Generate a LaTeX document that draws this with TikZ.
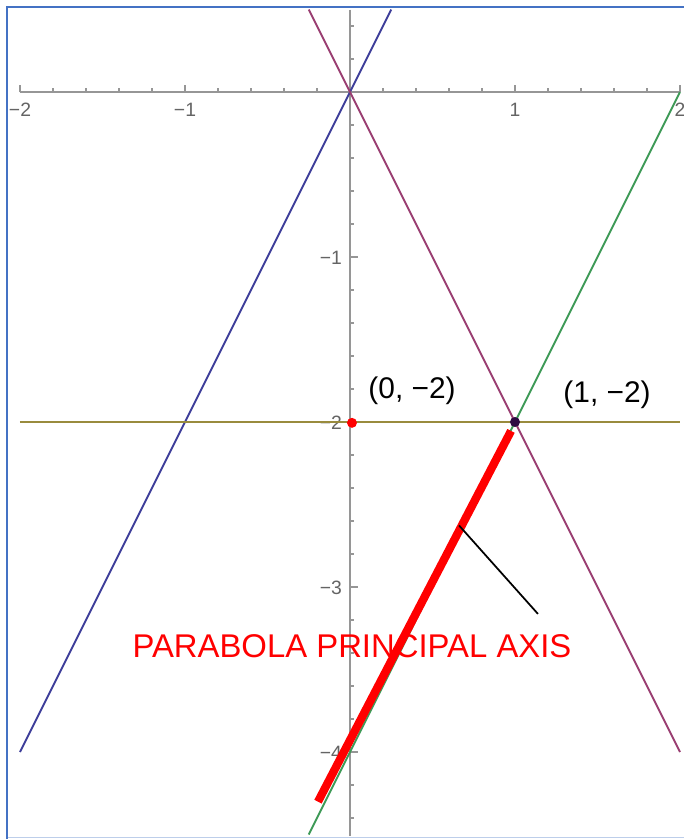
\documentclass[tikz,border=0pt]{standalone}
\usepackage{fontspec}
\setmainfont{Liberation Sans}
\usepackage{xcolor}
\usepackage{tikz}
\usetikzlibrary{positioning}
\definecolor{frameblue}{RGB}{68,114,196}
\definecolor{axisgray}{RGB}{150,150,150}
\definecolor{labelgray}{RGB}{100,100,100}
\definecolor{lineblue}{rgb}{0.24,0.24,0.6}
\definecolor{linepurple}{rgb}{0.6,0.24,0.443}
\definecolor{lineolive}{rgb}{0.6,0.547,0.24}
\definecolor{linegreen}{rgb}{0.24,0.6,0.337}
\definecolor{dotdark}{RGB}{45,10,65}
\tikzset{
  axisline/.style={draw=axisgray, line width=0.035cm},
  tickmark/.style={draw=axisgray, line width=0.03cm},
  ticklabel/.style={text=labelgray, inner sep=0pt, font=\fontsize{11}{13}\selectfont},
  curve/.style={line width=0.038cm},
  ptlabel/.style={inner sep=0pt, anchor=base, font=\fontsize{17}{20}\selectfont},
  pointdot/.style={circle, inner sep=0pt, minimum size=0.2cm},
  axislabel/.style={inner sep=0pt, anchor=base, text=red, font=\fontsize{18.7}{22}\selectfont},
}

\begin{document}
\begin{tikzpicture}[x=3.3cm, y=3.3cm]
  \useasboundingbox (-2.1212,-4.5273) rectangle (2.0242,0.5576);
  \draw[frameblue!35, line width=0.02cm] (-2.0788,-4.5152) -- (2.1,-4.5152);
  \draw[frameblue, line width=0.04cm] (-2.0788,-4.53) -- (-2.0788,0.5152) -- (2.1,0.5152);

  \coordinate (xmin) at (-2,0);
  \coordinate (xmax) at (2,0);
  \coordinate (ymax) at (0,0.5);
  \coordinate (ymin) at (0,-4.51);
  \draw[axisline] (xmin) -- (xmax);
  \draw[axisline] (ymax) -- (ymin);
  \foreach \k in {-10,...,10}
    \draw[tickmark] (\k/5,0) -- ++(0,0.024);
  \foreach \k in {-22,...,2}
    \draw[tickmark] (0,\k/5) -- ++(0.024,0);
  \foreach \x in {-2,-1,1,2}
    \draw[tickmark] (\x,0) -- ++(0,0.044);
  \foreach \y in {-1,-2,-3,-4}
    \draw[tickmark] (0,\y) -- ++(0.048,0);
  \foreach \x/\t in {-2/−2,-1/−1,1/1,2/2}
    \node[ticklabel] (xl\x) at (\x,-0.109) {\t};
  \foreach \y/\t in {-1/−1,-2/−2,-3/−3,-4/−4}
    \node[ticklabel, anchor=east] (yl\y) at (-0.047,\y-0.004) {\t};

  \coordinate (b1) at (-2,-4);
  \coordinate (b2) at (0.25,0.5);
  \coordinate (p1) at (-0.25,0.5);
  \coordinate (p2) at (2,-4);
  \coordinate (o1) at (-2,-2);
  \coordinate (o2) at (2,-2);
  \coordinate (g1) at (-0.25,-4.5);
  \coordinate (g2) at (2,0);
  \draw[curve, lineblue] (b1) -- (b2);
  \draw[curve, linepurple] (p1) -- (p2);
  \draw[curve, lineolive] (o1) -- (o2);
  \draw[curve, linegreen] (g1) -- (g2);

  \coordinate (axtop) at (0.976,-2.054);
  \coordinate (axbot) at (-0.194,-4.301);
  \draw[red, line width=0.165cm] (axtop) -- (axbot);
  \coordinate (ptrA) at (0.661,-2.627);
  \coordinate (ptrB) at (1.139,-3.163);
  \draw[black, line width=0.035cm] (ptrA) -- (ptrB);
  \node[axislabel] (axname) at (0.012,-3.43) {PARABOLA PRINCIPAL AXIS};

  \node[pointdot, fill=red] (pA) at (0.012,-2.005) {};
  \node[pointdot, fill=dotdark] (pB) at (1,-2) {};
  \node[ptlabel] (lA) at (0.376,-1.855) {(0, −2)};
  \node[ptlabel] (lB) at (1.558,-1.883) {(1, −2)};
\end{tikzpicture}
\end{document}
